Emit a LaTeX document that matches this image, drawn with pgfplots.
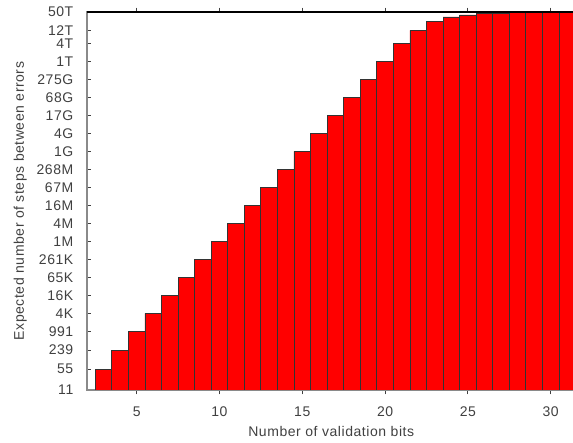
\documentclass[border=0pt]{standalone}
\usepackage{pgfplots}
\pgfplotsset{compat=1.18}
\usepackage{fontspec}
\setmainfont{Liberation Sans}[LetterSpace=4.0]
\definecolor{txt}{HTML}{404040}
\definecolor{barred}{HTML}{FF0000}
\definecolor{axgray}{HTML}{8A8A8A}
\begin{document}
\begin{tikzpicture}
\path[use as bounding box] (-87pt,-53pt) rectangle (486pt,390pt);
\begin{axis}[
  at={(0,0)}, anchor=south west,
  scale only axis,
  width=488.5pt, height=378pt,
  xmin=2, xmax=31.5,
  ymode=log, ymin=11, ymax=5e13,
  log origin=infty,
  xtick={5,10,15,20,25,30},
  xticklabels={5,10,15,20,25,30},
  ytick={11,55,239,991,4031,16255,65279,261631,1047551,4192255,16773119,67100671,268419071,1.073709e9,4.294902e9,1.7179738e10,6.8719215e10,2.74877383e11,1.09951058e12,4.39804441e12,1.2e13,5e13},
  yticklabels={11,55,239,991,4K,16K,65K,261K,1M,4M,16M,67M,268M,1G,4G,17G,68G,275G,1T,4T,12T,50T},
  minor tick num=0,
  /pgf/number format/assume math mode=true,
  tick align=inside,
  major tick length=4.3pt,
  major tick style={draw=black!75, line width=0.8pt},
  axis line style={draw=axgray, line width=1.3pt},
  xticklabel style={font=\fontsize{14}{16}\selectfont, text=txt, anchor=north, inner sep=0pt, yshift=-12.5pt},
  yticklabel style={font=\fontsize{14}{16}\selectfont, text=txt, anchor=east, inner sep=0pt, xshift=-13.5pt},
  xlabel={Number of validation bits},
  ylabel={Expected number of steps between errors},
  every axis x label/.style={at={(axis description cs:0.5,0)}, anchor=base, yshift=-46.7pt, font=\fontsize{14}{16}\selectfont, text=txt},
  every axis y label/.style={at={(axis description cs:0,0.5)}, xshift=-63pt, rotate=90, anchor=base, font=\fontsize{14}{16}\selectfont, text=txt},
  ybar, bar width=1, bar shift=0pt,
]
\addplot[fill=barred, draw=black!80, line width=0.8pt] coordinates {
(3,55) (4,239) (5,991) (6,4031) (7,16255) (8,65279) (9,261631) (10,1047551)
(11,4192255) (12,16773119) (13,67100671) (14,268419071) (15,1.073709e9)
(16,4.294902e9) (17,1.7179738e10) (18,6.8719215e10) (19,2.74877383e11)
(20,1.09951058e12) (21,4.39804441e12) (22,1.2e13) (23,2.37e13) (24,3.4e13)
(25,3.97e13) (26,4.5e13) (27,4.55e13) (28,5e13) (29,5e13) (30,5e13) (31,5e13)
};
\draw[black, line width=1.3pt] (rel axis cs:0,1) -- (rel axis cs:1,1);
\end{axis}
\end{tikzpicture}
\end{document}
